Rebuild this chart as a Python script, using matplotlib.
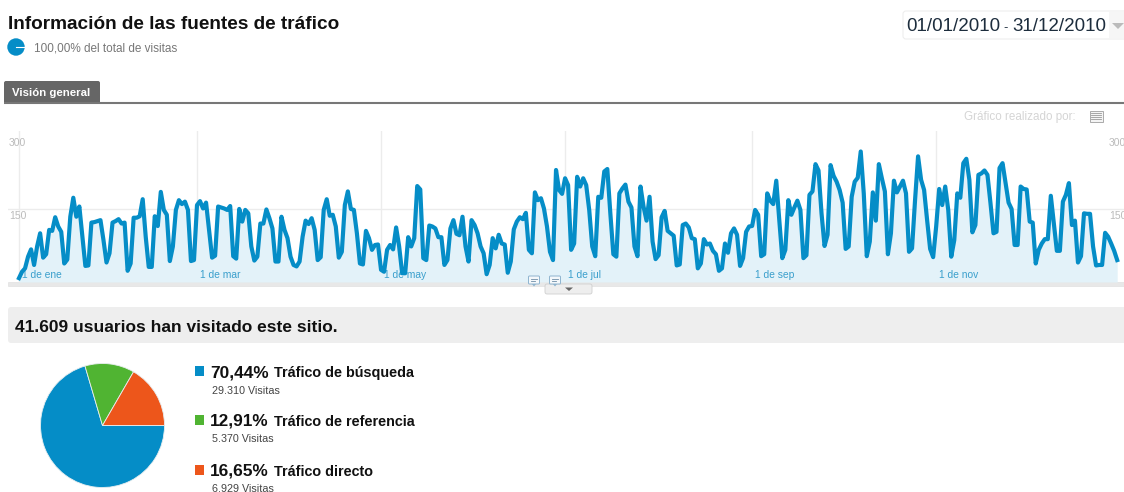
#!/usr/bin/python3
import numpy as np
import matplotlib
matplotlib.use("Agg")
import matplotlib.pyplot as plt
from matplotlib.patches import Rectangle, FancyBboxPatch, Circle, Polygon

plt.rcParams['font.family'] = ['Liberation Sans', 'DejaVu Sans']

W, H = 1124, 492

# daily visits, 1 Jan 2010 onwards
visits = [
    8, 21, 28, 52, 67, 35, 73, 100, 50, 57, 107, 105, 133, 114, 103, 38, 46, 134, 173, 134,
    155, 93, 33, 34, 122, 123, 125, 127, 86, 40, 59, 122, 125, 129, 120, 122, 23, 38, 132, 132,
    135, 170, 93, 31, 31, 135, 115, 185, 148, 138, 43, 73, 148, 168, 160, 165, 148, 43, 45, 158,
    166, 151, 163, 107, 50, 54, 155, 153, 151, 148, 156, 53, 48, 150, 124, 148, 141, 73, 44, 52,
    120, 120, 149, 131, 110, 42, 42, 134, 107, 90, 52, 35, 32, 42, 93, 126, 119, 131, 107, 45,
    51, 148, 170, 136, 138, 114, 50, 62, 158, 186, 150, 148, 100, 38, 36, 105, 90, 66, 76, 77,
    25, 21, 66, 76, 67, 112, 73, 18, 18, 92, 73, 90, 197, 190, 49, 45, 116, 114, 110, 92,
    92, 35, 45, 110, 127, 99, 96, 134, 73, 42, 127, 117, 100, 73, 59, 16, 35, 90, 69, 97,
    79, 77, 19, 42, 108, 124, 133, 129, 142, 66, 59, 184, 168, 172, 151, 114, 62, 45, 230, 189,
    181, 213, 199, 66, 79, 216, 196, 213, 199, 148, 73, 53, 175, 173, 227, 232, 141, 57, 52, 182,
    192, 200, 165, 153, 73, 53, 196, 155, 126, 175, 83, 47, 55, 133, 146, 105, 100, 95, 34, 36,
    117, 120, 112, 90, 88, 28, 38, 88, 77, 79, 64, 57, 23, 28, 79, 60, 100, 110, 97, 33,
    49, 103, 114, 115, 148, 138, 53, 57, 182, 167, 160, 208, 127, 49, 66, 168, 138, 153, 167, 148,
    49, 55, 179, 186, 242, 229, 141, 74, 97, 240, 218, 206, 189, 163, 68, 73, 175, 206, 214, 268,
    182, 53, 83, 184, 126, 242, 213, 186, 57, 100, 208, 184, 196, 208, 182, 62, 69, 168, 258, 210,
    189, 127, 68, 51, 114, 191, 158, 196, 148, 52, 86, 182, 173, 244, 253, 210, 102, 117, 220, 223,
    229, 220, 162, 100, 103, 234, 244, 203, 163, 150, 76, 76, 196, 191, 190, 124, 122, 38, 66, 79,
    88, 88, 177, 120, 64, 64, 165, 179, 203, 117, 126, 40, 53, 141, 140, 140, 73, 34, 35, 35,
    101, 93, 79, 64, 45,
]
month_days = [0, 59, 120, 181, 243, 304]
month_labels = ['1 de ene', '1 de mar', '1 de may', '1 de jul', '1 de sep', '1 de nov']
y_ticks = [150, 300]

sources = ['Tráfico de búsqueda', 'Tráfico de referencia', 'Tráfico directo']
source_visits = [29310, 5370, 6929]
source_shares = ['70,44%', '12,91%', '16,65%']
source_counts = ['29.310 Visitas', '5.370 Visitas', '6.929 Visitas']
source_colors = ['#058dc7', '#50b432', '#ed561b']
BLUE = '#058dc7'


def fs(px):
    return px * 0.72


def axes_px(left, top, right, bottom):
    return fig.add_axes([left / W, 1 - bottom / H, (right - left) / W, (bottom - top) / H])


fig = plt.figure(figsize=(W / 100, H / 100), dpi=100, facecolor='white')

# page furniture in pixel coordinates
bg = fig.add_axes([0, 0, 1, 1])
bg.set_xlim(0, W)
bg.set_ylim(H, 0)
bg.axis('off')

bg.text(8, 24.5, 'Información de las fuentes de tráfico', fontsize=fs(19), fontweight='bold', va='center', color='#111111')
bg.add_patch(Circle((16, 47), 8.7, color=BLUE, lw=0))
bg.plot([16, 24], [47, 47], color='white', lw=0.8)
bg.text(34, 48.5, '100,00% del total de visitas', fontsize=fs(11.8), va='center', color='#777777')

# date picker
bg.add_patch(FancyBboxPatch((903, 11), 240, 28, boxstyle='round,pad=0,rounding_size=3', fc='white', ec='#eeeeee', lw=0.8))
bg.add_patch(Rectangle((1109, 12), 15, 26, fc='#f6f6f6', lw=0))
bg.add_patch(Polygon([[1112, 23], [1124, 23], [1118, 29]], fc='#bbbbbb', lw=0))
bg.text(906, 26.5, '01/01/2010', fontsize=fs(18.8), va='center', color='#1d2d3d')
bg.text(1003, 28, '-', fontsize=fs(13), va='center', color='#1d2d3d')
bg.text(1012, 26.5, '31/12/2010', fontsize=fs(18.8), va='center', color='#1d2d3d')

# tab
bg.add_patch(FancyBboxPatch((4, 81), 96, 24, boxstyle='round,pad=0,rounding_size=2', fc='#666666', lw=0))
bg.plot([4, W], [102.5, 102.5], color='#777777', lw=1.5, solid_capstyle='butt')
bg.add_patch(Rectangle((0, 103.2), W, 6, fc='white', lw=0))
bg.text(12, 92.5, 'Visión general', fontsize=fs(11.4), fontweight='bold', va='center', color='white')

bg.text(1076, 117, 'Gráfico realizado por:', fontsize=fs(11.6), va='center', ha='right', color='#d5d5d5')
bg.add_patch(Rectangle((1089.5, 110.5), 13, 11, fc='#f4f4f4', ec='#aaaaaa', lw=0.7))
for yy in (113, 115, 117, 119):
    bg.plot([1091, 1101], [yy, yy], color='#999999', lw=0.6)

# strip under chart + handle
bg.add_patch(Rectangle((8, 282), W - 8, 3.5, fc='#e8e8e8', ec='#dddddd', lw=0.4))
bg.add_patch(FancyBboxPatch((545, 284), 47, 10, boxstyle='round,pad=0,rounding_size=2', fc='#eeeeee', ec='#cfcfcf', lw=0.6))
bg.add_patch(Polygon([[565, 287.5], [573, 287.5], [569, 291]], fc='#666666', lw=0))

# summary band
bg.add_patch(FancyBboxPatch((8, 307), W, 36, boxstyle='round,pad=0,rounding_size=3', fc='#eeeeee', lw=0))
bg.text(15, 327.5, '41.609 usuarios han visitado este sitio.', fontsize=fs(17.4), fontweight='bold', va='center', color='#111111')

# time series
ax = axes_px(8, 131, W, 282)
ax.patch.set_alpha(0)
days = np.arange(len(visits))
ax.set_xlim((8 - 19) / 3.017, (W - 19) / 3.017)
ax.set_ylim(0, (282 - 131) / 0.487)
for s in ax.spines.values():
    s.set_visible(False)
ax.set_xticks([])
ax.set_yticks([])
for d in month_days:
    ax.axvline(d, color='#ececec', lw=1, zorder=1)
ax.axhline(150, color='#ececec', lw=1, zorder=1)
ax.fill_between(days, visits, 0, color='#e3f2f9', lw=0, zorder=2)
ax.plot(days, visits, color=BLUE, lw=3.0, solid_joinstyle='round', zorder=3)
for d, label in zip(month_days, month_labels):
    ax.annotate(label, (d, 0), xytext=(3, 7.5), textcoords='offset pixels', fontsize=fs(10.2), color='#3a9fcc', va='center', zorder=2.5)
for t in y_ticks:
    ax.annotate(str(t), (0, t), xycoords=('axes fraction', 'data'), xytext=(1, -7), textcoords='offset pixels', fontsize=fs(10.4), color='#bbbbbb', va='center')
    ax.annotate(str(t), (1, t), xycoords=('axes fraction', 'data'), xytext=(-15, -7), textcoords='offset pixels', fontsize=fs(10.4), color='#bbbbbb', va='center', annotation_clip=False)

# annotation bubbles
top = fig.add_axes([0, 0, 1, 1])
top.set_xlim(0, W)
top.set_ylim(H, 0)
top.axis('off')
for bx in (534, 555):
    top.add_patch(FancyBboxPatch((bx - 5.5, 276), 11, 8, boxstyle='round,pad=0,rounding_size=1', fc='#f4f8fb', ec='#8fb4cf', lw=0.7))
    top.add_patch(Polygon([[bx - 2, 284], [bx + 2, 284], [bx, 286.5]], fc='#8fb4cf', lw=0))
    top.plot([bx - 3, bx + 3], [279, 279], color='#6f8ea8', lw=0.6)
    top.plot([bx - 3, bx + 1], [281, 281], color='#6f8ea8', lw=0.6)

# pie
pie_ax = axes_px(40.5, 363.5, 164.5, 487.5)
pie_ax.pie(source_visits, colors=source_colors, startangle=0, counterclock=False, radius=1,
           wedgeprops={'edgecolor': '#e8eef0', 'linewidth': 0.6})
pie_ax.set_xlim(-1, 1)
pie_ax.set_ylim(-1, 1)

# legend
row_y = [371, 420, 470]
for yy, share, name, count, color in zip(row_y, source_shares, sources, source_counts, source_colors):
    top.add_patch(Rectangle((194.5, yy - 5), 9.5, 9.5, fc=color, lw=0))
    top.text(210, yy + 1.5, share, fontsize=fs(17.2), fontweight='bold', va='center', color='#111111')
    top.text(274, yy + 1.5, name, fontsize=fs(14.4), fontweight='bold', va='center', color='#111111')
    top.text(212, yy + 19.5, count, fontsize=fs(10.8), va='center', color='#444444')

fig.savefig('out.png', dpi=100)
